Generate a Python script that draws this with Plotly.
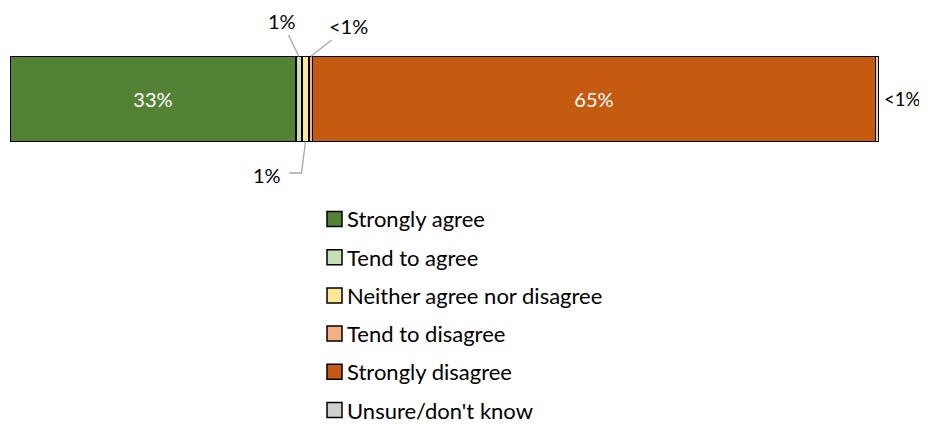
import plotly.graph_objects as go

categories = ["Strongly agree", "Tend to agree", "Neither agree nor disagree",
              "Tend to disagree", "Strongly disagree", "Unsure/don't know"]
values = [32.9, 0.7, 0.8, 0.4, 64.8, 0.4]
labels = ["33%", "1%", "1%", "<1%", "65%", "<1%"]
colors = ["#548235", "#C5E0B4", "#FFE699", "#F4B183", "#C55A11", "#D0CECE"]

FONT = "Lato"
FS = 20       # data labels
LFS = 22      # legend
BARW = 0.71
Y_MIN, Y_MAX = -0.827, 0.760

W, H = 919, 417
ML, MR, MT, MB = 2, 48, 0, 227
PW, PH = W - ML - MR, H - MT - MB

fig = go.Figure()
for c, v, lab, col in zip(categories, values, labels, colors):
    inside = lab if v > 5 else ""
    fig.add_trace(go.Bar(
        y=[0], x=[v], orientation="h", name=c, width=BARW,
        marker=dict(color=col, line=dict(color="#000000", width=1.6)),
        text=[inside], textposition="inside", insidetextanchor="middle",
        textfont=dict(color="white", size=FS, family=FONT),
        hoverinfo="skip", showlegend=False,
    ))

cum = []
s = 0
for v in values:
    cum.append(s + v / 2)
    s += v
total = s

gray = "#A6A6A6"
txt = dict(size=FS, family=FONT, color="#000")
ann = [
    dict(x=cum[1], y=BARW / 2, xref="x", yref="y", text=labels[1],
         showarrow=True, arrowhead=0, arrowwidth=1.3, arrowcolor=gray,
         ax=-17, ay=-35, font=txt),
    dict(x=cum[3], y=BARW / 2, xref="x", yref="y", text=labels[3],
         showarrow=True, arrowhead=0, arrowwidth=1.3, arrowcolor=gray,
         ax=38, ay=-30, font=txt),
    dict(x=cum[2], y=-BARW / 2, xref="x", yref="y", text=labels[2],
         showarrow=False, xshift=-38, yshift=-34, font=txt),
    dict(x=total, y=0, xref="x", yref="y", text=labels[5],
         showarrow=False, xanchor="left", xshift=3,
         font=dict(size=18.5, family=FONT, color="#000")),
]

elbow_x = cum[2] - 0.45
elbow_y = -0.618
fig.add_shape(type="path", xref="x", yref="y",
              path=f"M {cum[2]},{-BARW/2} L {elbow_x},{elbow_y} L {elbow_x - 1.4},{elbow_y}",
              line=dict(color=gray, width=1.3))

# Legend (paper-referenced squares + text, laid out like the original)
LEG_X = 319          # px from figure left, marker left edge
LEG_Y0 = 211         # px from figure top, first row centre
LEG_DY = 38.2        # row spacing px
SQ = 15              # marker size px


def px2paper_x(px):
    return (px - ML) / PW


def px2paper_y(py):
    return (H - MB - py) / PH


for i, (c, col) in enumerate(zip(categories, colors)):
    yc = LEG_Y0 + i * LEG_DY
    fig.add_shape(type="rect", xref="paper", yref="paper",
                  x0=px2paper_x(LEG_X), x1=px2paper_x(LEG_X + SQ),
                  y0=px2paper_y(yc + SQ / 2), y1=px2paper_y(yc - SQ / 2),
                  fillcolor=col, line=dict(color="#000000", width=1.5))
    ann.append(dict(x=px2paper_x(LEG_X + SQ + 3), y=px2paper_y(yc),
                    xref="paper", yref="paper", text=c, showarrow=False,
                    xanchor="left", yanchor="middle",
                    font=dict(size=LFS, family=FONT, color="#000")))

fig.update_layout(
    width=W, height=H,
    margin=dict(l=ML, r=MR, t=MT, b=MB),
    barmode="stack",
    plot_bgcolor="white", paper_bgcolor="white",
    xaxis=dict(range=[0, total], visible=False, fixedrange=True),
    yaxis=dict(range=[Y_MIN, Y_MAX], visible=False, fixedrange=True),
    showlegend=False,
    annotations=ann,
    font=dict(family=FONT, size=FS),
)

fig.write_html(
    "out.html",
    post_script="document.documentElement.style.overflow='hidden';"
                "document.body.style.overflow='hidden';",
)
